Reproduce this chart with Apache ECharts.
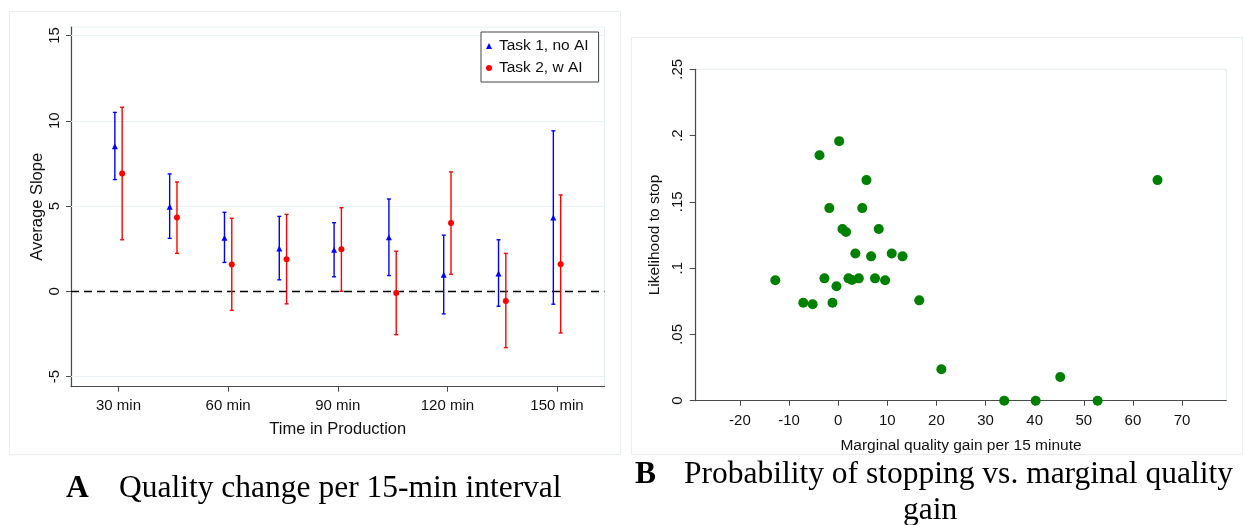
<!DOCTYPE html>
<html>
<head>
<meta charset="utf-8">
<script src="https://cdn.jsdelivr.net/npm/echarts@6/dist/echarts.min.js"></script>
<style>
html,body{margin:0;padding:0;background:#fff;}
#chart{width:1243px;height:525px;}
</style>
</head>
<body>
<div id="chart"></div>
<script>
// ---- Panel A data ----
const times = [30, 45, 60, 75, 90, 105, 120, 135, 150];
const timeTicks = [30, 60, 90, 120, 150];
const t1Mean = [8.51, 4.96, 3.14, 2.51, 2.43, 3.16, 0.96, 1.04, 4.32];
const t1Low  = [6.55, 3.10, 1.69, 0.67, 0.85, 0.92, -1.33, -0.88, -0.76];
const t1High = [10.49, 6.88, 4.63, 4.39, 4.02, 5.41, 3.29, 3.02, 9.41];
const t2Mean = [6.90, 4.32, 1.57, 1.88, 2.47, -0.10, 4.00, -0.57, 1.59];
const t2Low  = [3.02, 2.22, -1.12, -0.74, 0.00, -2.55, 1.00, -3.31, -2.45];
const t2High = [10.79, 6.41, 4.28, 4.51, 4.90, 2.35, 7.00, 2.22, 5.65];
const slopeTicks = [-5, 0, 5, 10, 15];
const slopeGrid = [-5, 5, 10, 15];

// ---- Panel B data ----
const gainX = [-12.8, -7.1, -5.2, -3.8, -2.8, -1.8, -1.16, -0.35, 0.2, 0.87, 1.6, 2.1, 2.8, 3.5, 4.2, 4.9, 5.75, 6.7, 7.5, 8.26, 9.55, 10.9, 13.1, 16.5, 21.0, 33.8, 40.2, 45.2, 52.8, 65.0];
const stopY = [0.0908, 0.0739, 0.0727, 0.1851, 0.0923, 0.1453, 0.0739, 0.0863, 0.1958, 0.1295, 0.1272, 0.0923, 0.0910, 0.1111, 0.0923, 0.1453, 0.1664, 0.1089, 0.0923, 0.1295, 0.0908, 0.1111, 0.1089, 0.0757, 0.0237, 0, 0, 0.0179, 0, 0.1664];
const gainTicks = [-20, -10, 0, 10, 20, 30, 40, 50, 60, 70];

const SANS = '"Liberation Sans", Arial, sans-serif';
const SERIF = '"Liberation Serif", "DejaVu Serif", serif';
const BLUE = '#0000ff', RED = '#ff0000', GREEN = '#008000';
const AXIS = '#4a4a4a', TXT = '#111';
const OFFSET = 1; // minutes shift of paired bars

function errData(means, lows, highs, shift) {
  return times.map((t, i) => [t + shift, lows[i], highs[i], means[i]]);
}
function errRender(color) {
  return function (params, api) {
    const x = api.value(0);
    const lo = api.coord([x, api.value(1)]);
    const hi = api.coord([x, api.value(2)]);
    const c = 2;
    const st = { stroke: color, lineWidth: 1.4 };
    return { type: 'group', children: [
      { type: 'line', shape: { x1: lo[0], y1: lo[1], x2: hi[0], y2: hi[1] }, style: st },
      { type: 'line', shape: { x1: lo[0] - c, y1: lo[1], x2: lo[0] + c, y2: lo[1] }, style: st },
      { type: 'line', shape: { x1: hi[0] - c, y1: hi[1], x2: hi[0] + c, y2: hi[1] }, style: st }
    ]};
  };
}

const chart = echarts.init(document.getElementById('chart'), null, { renderer: 'canvas' });
const CAP = '31.5px ' + SERIF;
const option = {
  animation: false,
  backgroundColor: '#fff',
  textStyle: { fontFamily: SANS },
  graphic: [
    { type: 'rect', shape: { x: 9.5, y: 11.5, width: 611, height: 443 }, style: { fill: 'none', stroke: '#e8edf0', lineWidth: 1 }, z: -10 },
    { type: 'rect', shape: { x: 631.5, y: 37.5, width: 611, height: 417 }, style: { fill: 'none', stroke: '#e8edf0', lineWidth: 1 }, z: -10 },
    { type: 'text', left: 66, top: 473, style: { text: 'A', font: 'bold ' + CAP, fill: '#000' } },
    { type: 'text', left: 119, top: 473, style: { text: 'Quality change per 15-min interval', font: CAP, fill: '#000' } },
    { type: 'text', left: 635, top: 459, style: { text: 'B', font: 'bold ' + CAP, fill: '#000' } },
    { type: 'text', left: 684, top: 459, style: { text: 'Probability of stopping vs. marginal quality', font: CAP, fill: '#000' } },
    { type: 'text', left: 903, top: 495, style: { text: 'gain', font: CAP, fill: '#000' } }
  ],
  legend: {
    left: 481, top: 32,
    orient: 'vertical',
    padding: [6, 10, 6, 5],
    itemGap: 6,
    itemWidth: 6, itemHeight: 6,
    itemStyle: { opacity: 1 },
    borderColor: '#444', borderWidth: 1,
    backgroundColor: '#fff',
    textStyle: { fontSize: 15.5, color: TXT, fontFamily: SANS, padding: [0, 0, 0, 2] },
    data: [
      { name: 'Task 1, no AI', icon: 'triangle' },
      { name: 'Task 2, w AI', icon: 'circle' }
    ]
  },
  grid: [
    { left: 71, right: 638.5, top: 27, bottom: 138.3, show: true, borderColor: '#e4eef0', borderWidth: 1, backgroundColor: '#fff' },
    { left: 695.7, right: 16.7, top: 69.3, bottom: 124.3, show: true, borderColor: '#e4eef0', borderWidth: 1, backgroundColor: '#fff' }
  ],
  xAxis: [
    {
      gridIndex: 0, type: 'value', min: 17, max: 163,
      name: 'Time in Production', nameLocation: 'middle', nameGap: 34,
      nameTextStyle: { fontSize: 16.5, color: TXT, fontFamily: SANS },
      axisLine: { show: true, onZero: false, lineStyle: { color: AXIS, width: 1.2 } },
      axisTick: { show: true, length: 5, lineStyle: { color: AXIS }, customValues: timeTicks },
      axisLabel: { fontSize: 15, color: TXT, margin: 12, formatter: v => v + ' min', customValues: timeTicks },
      splitLine: { show: false }
    },
    {
      gridIndex: 1, type: 'value', min: -29, max: 79,
      name: 'Marginal quality gain per 15 minute', nameLocation: 'middle', nameGap: 37,
      nameTextStyle: { fontSize: 15.5, color: TXT, fontFamily: SANS },
      axisLine: { show: true, onZero: false, lineStyle: { color: AXIS, width: 1.2 } },
      axisTick: { show: true, length: 5, lineStyle: { color: AXIS }, customValues: gainTicks },
      axisLabel: { fontSize: 15, color: TXT, margin: 13, customValues: gainTicks },
      splitLine: { show: false }
    }
  ],
  yAxis: [
    {
      gridIndex: 0, type: 'value', min: -5.6, max: 15.5,
      name: 'Average Slope', nameLocation: 'middle', nameGap: 25,
      nameTextStyle: { fontSize: 16.5, color: TXT, fontFamily: SANS },
      axisLine: { show: true, onZero: false, lineStyle: { color: AXIS, width: 1.2 } },
      axisTick: { show: true, length: 5, lineStyle: { color: AXIS }, customValues: slopeTicks },
      axisLabel: { fontSize: 15, color: TXT, margin: 9, rotate: 90, customValues: slopeTicks },
      splitLine: { show: false }
    },
    {
      gridIndex: 1, type: 'value', min: 0, max: 0.25, interval: 0.05,
      name: 'Likelihood to stop', nameLocation: 'middle', nameGap: 33,
      nameTextStyle: { fontSize: 15.5, color: TXT, fontFamily: SANS },
      axisLine: { show: true, onZero: false, lineStyle: { color: AXIS, width: 1.2 } },
      axisTick: { show: true, length: 6, lineStyle: { color: AXIS } },
      axisLabel: { fontSize: 15, color: TXT, margin: 10, rotate: 90,
        formatter: v => { const r = Math.round(v * 100) / 100; return r === 0 ? '0' : String(r).replace(/^0/, ''); } },
      splitLine: { show: false }
    }
  ],
  series: [
    {
      type: 'custom', name: 'err1', xAxisIndex: 0, yAxisIndex: 0,
      renderItem: errRender(BLUE), encode: { x: 0, y: [1, 2] },
      data: errData(t1Mean, t1Low, t1High, -OFFSET), z: 3,
      markLine: {
        silent: true, symbol: 'none', label: { show: false },
        lineStyle: { color: '#000', type: [8, 5], width: 1.3 },
        data: [{ yAxis: 0 }], z: 2
      }
    },
    {
      type: 'custom', name: 'err2', xAxisIndex: 0, yAxisIndex: 0,
      renderItem: errRender(RED), encode: { x: 0, y: [1, 2] },
      data: errData(t2Mean, t2Low, t2High, OFFSET), z: 3,
      markLine: {
        silent: true, symbol: 'none', label: { show: false },
        lineStyle: { color: '#e8f1f3', type: 'solid', width: 1 },
        data: slopeGrid.map(v => ({ yAxis: v })), z: 1
      }
    },
    {
      type: 'scatter', name: 'Task 1, no AI', xAxisIndex: 0, yAxisIndex: 0,
      symbol: 'triangle', symbolSize: 6, itemStyle: { color: BLUE, opacity: 1 },
      data: times.map((t, i) => [t - OFFSET, t1Mean[i]]), z: 4
    },
    {
      type: 'scatter', name: 'Task 2, w AI', xAxisIndex: 0, yAxisIndex: 0,
      symbol: 'circle', symbolSize: 6, itemStyle: { color: RED, opacity: 1 },
      data: times.map((t, i) => [t + OFFSET, t2Mean[i]]), z: 4
    },
    {
      type: 'scatter', name: 'stop', xAxisIndex: 1, yAxisIndex: 1,
      symbol: 'circle', symbolSize: 10, itemStyle: { color: GREEN, opacity: 1 },
      data: gainX.map((x, i) => [x, stopY[i]]), z: 4
    }
  ]
};
chart.setOption(option);
</script>
</body>
</html>
